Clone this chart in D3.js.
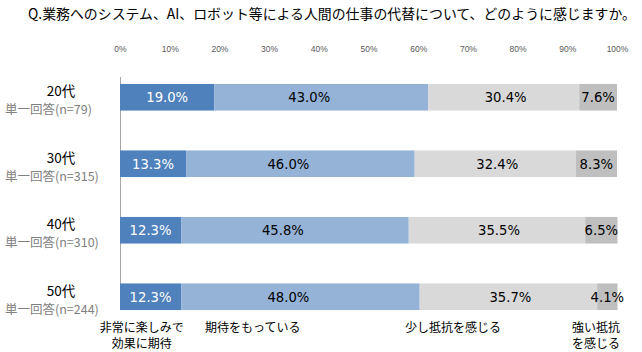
<!DOCTYPE html>
<html>
<head>
<meta charset="utf-8">
<script src="https://cdn.jsdelivr.net/npm/d3@7/dist/d3.min.js"></script>
<style>
  body { margin: 0; background: #fff; }
  svg { display: block; }
</style>
</head>
<body>
<svg id="chart" width="642" height="352"></svg>
<script>
// data
const title = "Q.業務へのシステム、AI、ロボット等による人間の仕事の代替について、どのように感じますか。"
const ages = ["20代", "30代", "40代", "50代"]
const sampleLabels = ["単一回答(n=79)", "単一回答(n=315)", "単一回答(n=310)", "単一回答(n=244)"]
const seriesNames = [["非常に楽しみで", "効果に期待"], ["期待をもっている"], ["少し抵抗を感じる"], ["強い抵抗", "を感じる"]]
const veryHopeful = [19.0, 13.3, 12.3, 12.3]
const hopeful = [43.0, 46.0, 45.8, 48.0]
const someResist = [30.4, 32.4, 35.5, 35.7]
const strongResist = [7.6, 8.3, 6.5, 4.1]
const tickValues = [0, 10, 20, 30, 40, 50, 60, 70, 80, 90, 100]

const colors = ["#4F81BD", "#95B3D7", "#D9D9D9", "#BFBFBF"]
const textColors = ["#ffffff", "#000000", "#000000", "#000000"]
const labelNudge = [0, -12, 2, 0]
// where the legend names sit along the axis (percent)
const legendAt = [4.4, 26.7, 67.0, 95.8]

const svg = d3.select("#chart")

let x = d3.scaleLinear().domain([0, 100]).range([120, 617])
let y = d3.scaleBand().domain(ages).range([64, 330]).paddingInner(0.6).paddingOuter(0.3)

let rows = ages.map((a, i) => {
    let vals = [veryHopeful[i], hopeful[i], someResist[i], strongResist[i]]
    let start = 0
    return vals.map((v, k) => {
        let seg = {age: a, k: k, v: v, x0: start, x1: start + v}
        start += v
        return seg
    })
})

// title
svg.append("text")
    .attr("x", 28)
    .attr("y", 19)
    .attr("font-family", "'Noto Sans CJK JP', sans-serif")
    .attr("font-size", 13.8)
    .attr("fill", "#000")
    .attr("textLength", 608)
    .attr("lengthAdjust", "spacingAndGlyphs")
    .text(title)

// top axis labels
let axis = d3.axisTop(x).tickValues(tickValues).tickFormat(d => d + "%").tickSize(0)
let axisG = svg.append("g").attr("transform", "translate(0,55)").call(axis)
axisG.select(".domain").remove()
axisG.selectAll("text")
    .attr("font-family", "'Liberation Sans', Arial, sans-serif")
    .attr("font-size", 8.5)
    .attr("fill", "#595959")

// vertical axis line
svg.append("line")
    .attr("x1", x(0) + 0.5).attr("x2", x(0) + 0.5)
    .attr("y1", 77).attr("y2", y(ages[ages.length - 1]) + y.bandwidth())
    .attr("stroke", "#A6A6A6")
    .attr("stroke-width", 1)

// bars
let rowG = svg.selectAll(".row").data(rows).join("g").attr("class", "row")

rowG.selectAll("rect").data(d => d).join("rect")
    .attr("x", d => x(d.x0))
    .attr("y", d => y(d.age))
    .attr("width", d => x(d.x1) - x(d.x0))
    .attr("height", y.bandwidth())
    .attr("fill", d => colors[d.k])

rowG.selectAll("text.val").data(d => d).join("text")
    .attr("class", "val")
    .attr("x", d => (x(d.x0) + x(d.x1)) / 2 + labelNudge[d.k])
    .attr("y", d => y(d.age) + y.bandwidth() / 2 + 5)
    .attr("text-anchor", "middle")
    .attr("font-family", "'DejaVu Sans', Verdana, sans-serif")
    .attr("font-size", 13.2)
    .attr("fill", d => textColors[d.k])
    .text(d => d.v.toFixed(1) + "%")

// category labels
ages.forEach((a, i) => {
    let cy = y(a) + y.bandwidth() / 2
    svg.append("text")
        .attr("x", 61)
        .attr("y", cy - 1)
        .attr("text-anchor", "middle")
        .attr("font-family", "'Noto Sans CJK JP', sans-serif")
        .attr("font-size", 13.5)
        .attr("fill", "#000")
        .text(a)
    svg.append("text")
        .attr("x", 5)
        .attr("y", cy + 17)
        .attr("font-family", "'Noto Sans CJK JP', sans-serif")
        .attr("font-size", 12.5)
        .attr("fill", "#808080")
        .text(sampleLabels[i])
})

// legend names under the bars
seriesNames.forEach((lines, k) => {
    lines.forEach((t, j) => {
        svg.append("text")
            .attr("x", x(legendAt[k]))
            .attr("y", 332 + j * 15.5)
            .attr("text-anchor", "middle")
            .attr("font-family", "'Noto Sans CJK JP', sans-serif")
            .attr("font-size", 12)
            .attr("fill", "#000")
            .text(t)
    })
})
</script>
</body>
</html>
